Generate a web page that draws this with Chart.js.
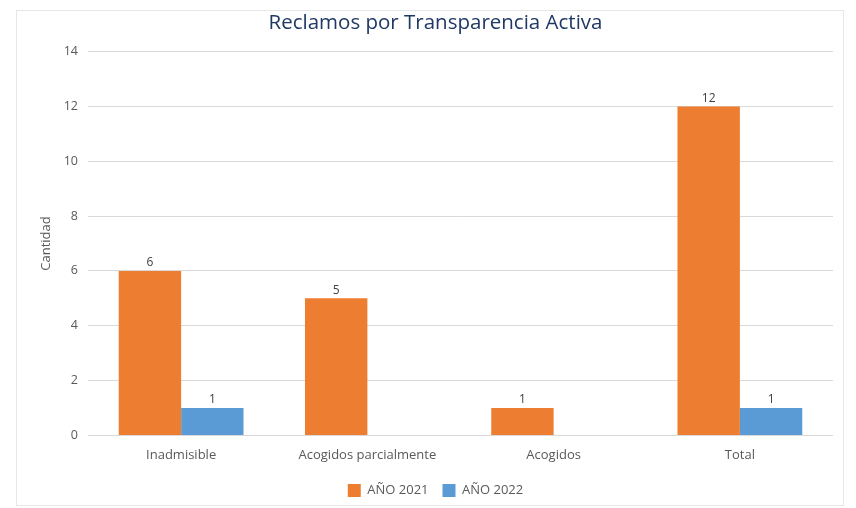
<!DOCTYPE html>
<html>
<head>
  <title>Reclamos por Transparencia Activa</title>
  <script src="https://cdn.jsdelivr.net/npm/chart.js"></script>
  <style>
    html, body { margin: 0; padding: 0; background: #ffffff; }
    .wrap {
      position: relative;
      width: 856px;
      height: 508px;
    }
    .frame {
      position: absolute;
      left: 16px; top: 10px; right: 12px; bottom: 2px;
      border: 1px solid #e6e6e6;
      pointer-events: none;
    }
  </style>
</head>
<body>
  <div class="wrap">
    <canvas id="chart" width="856" height="508"></canvas>
    <div class="frame"></div>
  </div>

  <script>
    const categories = ['Inadmisible', 'Acogidos parcialmente', 'Acogidos', 'Total'];
    const year2021 = [6, 5, 1, 12];
    const year2022 = [1, null, null, 1];
    const yTicks = [0, 2, 4, 6, 8, 10, 12, 14];

    const font = "'Open Sans', 'Noto Sans', sans-serif";

    // value labels above each bar
    const barLabels = {
      id: 'barLabels',
      afterDatasetsDraw(chart) {
        const ctx = chart.ctx;
        ctx.save();
        ctx.font = '12px ' + font;
        ctx.fillStyle = '#404040';
        ctx.textAlign = 'center';
        ctx.textBaseline = 'bottom';
        chart.data.datasets.forEach((ds, i) => {
          chart.getDatasetMeta(i).data.forEach((bar, j) => {
            const v = ds.data[j];
            if (v === null || v === undefined) return;
            ctx.fillText(String(v), bar.x, bar.y - 2);
          });
        });
        ctx.restore();
      }
    };

    new Chart(document.getElementById('chart'), {
      type: 'bar',
      data: {
        labels: categories,
        datasets: [
          {
            label: 'AÑO 2021',
            data: year2021,
            backgroundColor: '#ED7D31',
            barPercentage: 1,
            categoryPercentage: 0.67
          },
          {
            label: 'AÑO 2022',
            data: year2022,
            backgroundColor: '#5B9BD5',
            barPercentage: 1,
            categoryPercentage: 0.67
          }
        ]
      },
      options: {
        responsive: false,
        animation: false,
        layout: { padding: { left: 38, right: 23, top: 11, bottom: 1 } },
        plugins: {
          title: {
            display: true,
            text: 'Reclamos por Transparencia Activa',
            color: '#1F3864',
            font: { family: font, size: 20.5, weight: 'normal' },
            padding: { top: 0, bottom: 16 }
          },
          legend: {
            position: 'bottom',
            labels: {
              color: '#595959',
              font: { family: font, size: 13 },
              boxWidth: 13,
              boxHeight: 13,
              padding: 14
            }
          },
          tooltip: { enabled: false }
        },
        scales: {
          x: {
            grid: { display: false },
            border: { display: false },
            afterFit(axis) {
              axis.height += 3;
            },
            ticks: {
              color: '#595959',
              font: { family: font, size: 13 },
              padding: 4
            }
          },
          y: {
            min: 0,
            max: 14,
            afterBuildTicks(axis) {
              axis.ticks = yTicks.map(v => ({ value: v }));
            },
            afterFit(axis) {
              axis.width = 50;
            },
            grid: { color: '#d9d9d9', drawTicks: false },
            border: { display: false },
            title: {
              display: true,
              text: 'Cantidad',
              color: '#595959',
              font: { family: font, size: 13 },
              padding: { top: 0, bottom: 6 }
            },
            ticks: {
              color: '#595959',
              font: { family: font, size: 12.5 },
              padding: 10
            }
          }
        }
      },
      plugins: [barLabels]
    });
  </script>
</body>
</html>
